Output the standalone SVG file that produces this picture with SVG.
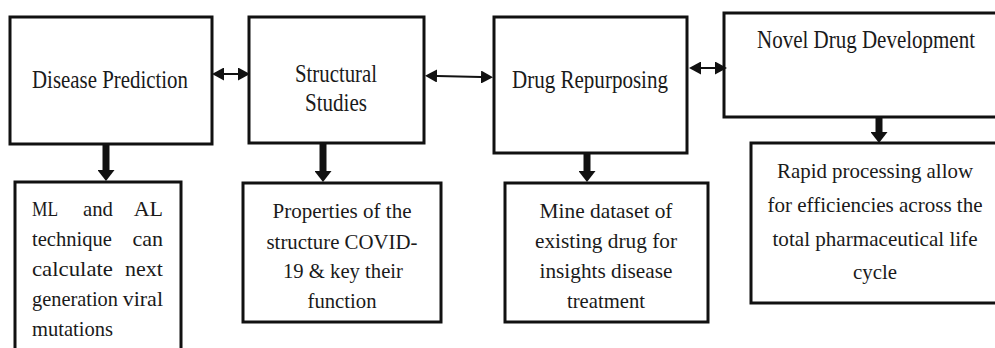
<svg xmlns="http://www.w3.org/2000/svg" width="995" height="348" viewBox="0 0 995 348">
  <style>
    .box { fill: #ffffff; stroke: #111111; stroke-width: 3; }
    text { font-family: 'Liberation Serif', 'Times New Roman', Times, 'DejaVu Serif', serif; fill: #1a1a1a; }
    .big { font-size: 25px; text-anchor: middle; }
    .sm { font-size: 22px; text-anchor: middle; }
    .st { font-size: 22px; text-anchor: start; }
    .en { font-size: 22px; text-anchor: end; }
    .link { stroke: #111111; stroke-width: 2; fill: none; }
    .down { stroke: #111111; stroke-width: 7; fill: none; }
  </style>
  <defs>
    <marker id="tip" viewBox="0 0 12 13" refX="0" refY="6.5" markerWidth="12" markerHeight="13" markerUnits="userSpaceOnUse" orient="auto-start-reverse">
      <path d="M0,0 L12,6.5 L0,13 Z" fill="#111111"/>
    </marker>
    <marker id="head" viewBox="0 0 11 17" refX="0" refY="8.5" markerWidth="11" markerHeight="17" markerUnits="userSpaceOnUse" orient="auto">
      <path d="M0,0 L11,8.5 L0,17 Z" fill="#111111"/>
    </marker>
  </defs>
  <rect width="995" height="348" fill="#ffffff"/>

  <g id="disease-prediction">
    <rect class="box" x="10" y="17" width="202" height="127"/>
    <text class="big" x="110" y="88" textLength="156" lengthAdjust="spacingAndGlyphs">Disease Prediction</text>
  </g>

  <g id="structural-studies">
    <rect class="box" x="249" y="17" width="175" height="126"/>
    <text class="big" x="336" y="82" textLength="82" lengthAdjust="spacingAndGlyphs">Structural</text>
    <text class="big" x="336" y="111" textLength="62" lengthAdjust="spacingAndGlyphs">Studies</text>
  </g>

  <g id="drug-repurposing">
    <rect class="box" x="494" y="17" width="193" height="136"/>
    <text class="big" x="590" y="88" textLength="156" lengthAdjust="spacingAndGlyphs">Drug Repurposing</text>
  </g>

  <g id="novel-drug-development">
    <!-- box runs off the right edge: drawn open on that side -->
    <rect x="724" y="13" width="271" height="104" fill="#ffffff"/>
    <path class="box" fill="none" d="M995,13 H724 V117 H995"/>
    <text class="big" x="866" y="48" textLength="218" lengthAdjust="spacingAndGlyphs">Novel Drug Development</text>
  </g>

  <g id="ml-mutations">
    <rect class="box" x="15" y="182" width="166" height="190"/>
    <text class="st" x="32" y="216" textLength="26" lengthAdjust="spacingAndGlyphs">ML</text>
    <text class="st" x="83" y="216" textLength="30" lengthAdjust="spacingAndGlyphs">and</text>
    <text class="en" x="163" y="216">AL</text>
    <text class="st" x="32" y="246" textLength="80" lengthAdjust="spacingAndGlyphs">technique</text>
    <text class="en" x="163" y="246">can</text>
    <text class="st" x="32" y="276" textLength="81" lengthAdjust="spacingAndGlyphs">calculate</text>
    <text class="en" x="163" y="276">next</text>
    <text class="st" x="32" y="306" textLength="86" lengthAdjust="spacingAndGlyphs">generation</text>
    <text class="en" x="163" y="306">viral</text>
    <text class="st" x="32" y="336" textLength="81" lengthAdjust="spacingAndGlyphs">mutations</text>
  </g>

  <g id="structure-properties">
    <rect class="box" x="243" y="183" width="198" height="139"/>
    <text class="sm" x="342" y="218" textLength="139" lengthAdjust="spacingAndGlyphs">Properties of the</text>
    <text class="sm" x="342" y="249" textLength="151" lengthAdjust="spacingAndGlyphs">structure COVID-</text>
    <text class="sm" x="343" y="278" textLength="120" lengthAdjust="spacingAndGlyphs">19 &amp; key their</text>
    <text class="sm" x="342" y="308" textLength="69" lengthAdjust="spacingAndGlyphs">function</text>
  </g>

  <g id="mine-dataset">
    <rect class="box" x="505" y="183" width="203" height="139"/>
    <text class="sm" x="606" y="218" textLength="133" lengthAdjust="spacingAndGlyphs">Mine dataset of</text>
    <text class="sm" x="606" y="248" textLength="142" lengthAdjust="spacingAndGlyphs">existing drug for</text>
    <text class="sm" x="606" y="278" textLength="133" lengthAdjust="spacingAndGlyphs">insights disease</text>
    <text class="sm" x="606" y="308" textLength="78" lengthAdjust="spacingAndGlyphs">treatment</text>
  </g>

  <g id="rapid-processing">
    <rect x="751" y="143" width="244" height="160" fill="#ffffff"/>
    <path class="box" fill="none" d="M995,143 H751 V303 H995"/>
    <text class="sm" x="875" y="178" textLength="196" lengthAdjust="spacingAndGlyphs">Rapid processing allow</text>
    <text class="sm" x="875" y="212" textLength="215" lengthAdjust="spacingAndGlyphs">for efficiencies across the</text>
    <text class="sm" x="875" y="246" textLength="205" lengthAdjust="spacingAndGlyphs">total pharmaceutical life</text>
    <text class="sm" x="875" y="279" textLength="44" lengthAdjust="spacingAndGlyphs">cycle</text>
  </g>

  <g id="connectors">
    <!-- two-way links between the top row -->
    <line class="link" x1="224" y1="74" x2="238" y2="74" marker-start="url(#tip)" marker-end="url(#tip)"/>
    <line class="link" x1="437" y1="76" x2="481" y2="77" stroke-width="1.4" marker-start="url(#tip)" marker-end="url(#tip)"/>
    <line class="link" x1="701" y1="68" x2="715" y2="68" marker-start="url(#tip)" marker-end="url(#tip)"/>
    <!-- heavy downward arrows -->
    <line class="down" x1="106" y1="145" x2="106" y2="170" marker-end="url(#head)"/>
    <line class="down" x1="323" y1="144" x2="323" y2="171" marker-end="url(#head)"/>
    <line class="down" x1="587" y1="154" x2="587" y2="171" marker-end="url(#head)"/>
    <line class="down" x1="879" y1="118" x2="879" y2="132" marker-end="url(#head)"/>
  </g>
</svg>
